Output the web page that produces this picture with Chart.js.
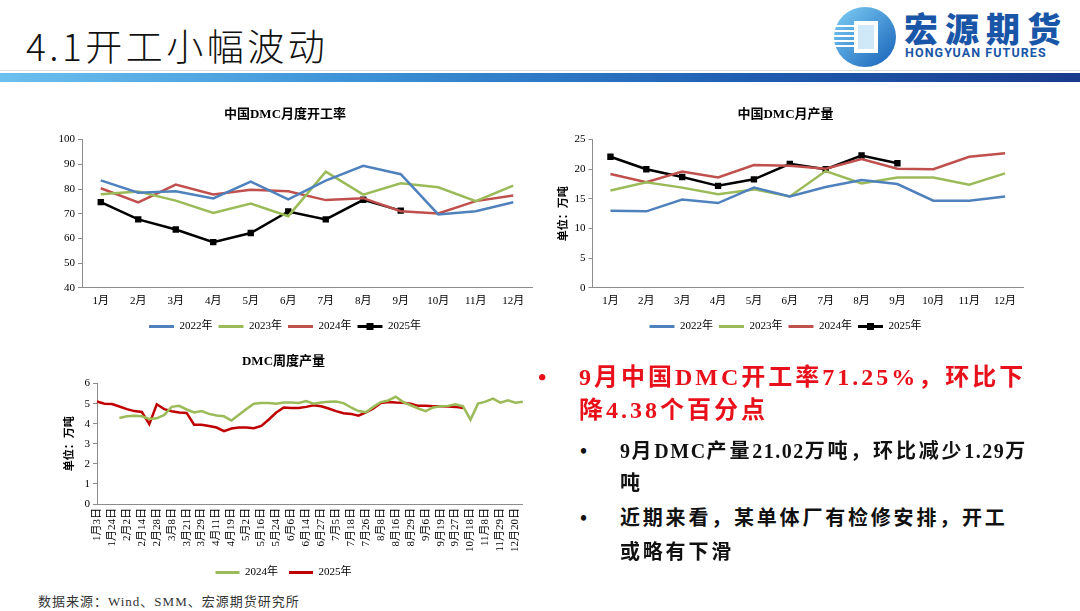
<!DOCTYPE html>
<html>
<head>
<meta charset="utf-8">
<script src="https://cdn.jsdelivr.net/npm/chart.js@4.4.1/dist/chart.umd.min.js"></script>
<style>
html, body { margin: 0; padding: 0; background: #fff; }
body { width: 1080px; height: 611px; position: relative; overflow: hidden;
       font-family: 'Liberation Serif', 'Noto Sans CJK SC', serif; }
.abs { position: absolute; }
#pageTitle { left: 26px; top: 18px; font-size: 37px; font-family: 'Noto Sans CJK SC', sans-serif;
             font-weight: 300; color: #111; letter-spacing: 3.5px; white-space: nowrap; }
#barLine { left: 0; top: 70px; width: 1080px; height: 1px; background: #dcdcdc; }
#bar { left: 0; top: 73px; width: 1080px; height: 9px;
       background: linear-gradient(90deg, #6cc0ee 0%, #3a8fd6 35%, #1f5cb0 70%, #1a3a8c 100%); }
#logoCn { left: 904px; top: 8px; font-size: 34px; font-weight: 900; color: #1a56a8;
          font-family: 'Noto Sans CJK SC', sans-serif; letter-spacing: 7px; white-space: nowrap; line-height: 40px; }
#logoEn { left: 905px; top: 45px; font-size: 12.5px; font-weight: bold; color: #1a56a8;
          font-family: 'Roboto', 'DejaVu Sans', sans-serif; letter-spacing: 1.1px; white-space: nowrap; }
.chartBox { position: absolute; }
.line { position: absolute; white-space: nowrap; font-weight: bold; }
.red { color: #e8101a; font-size: 24px; letter-spacing: 3px; line-height: 34px; }
.blk { color: #111; font-size: 20px; letter-spacing: 2.8px; line-height: 34px; }
.lat { letter-spacing: 1.5px; }
#source { left: 38px; top: 591px; font-size: 13px; color: #333; letter-spacing: 1px; white-space: nowrap; }
</style>
</head>
<body>
<div id="pageTitle" class="abs">4.1开工小幅波动</div>
<svg class="abs" style="left:830px;top:4px" width="70" height="66" viewBox="0 0 70 66">
  <defs>
    <linearGradient id="lg" x1="0" y1="0" x2="1" y2="1">
      <stop offset="0" stop-color="#7fd0f5"/>
      <stop offset="1" stop-color="#1560b8"/>
    </linearGradient>
  </defs>
  <ellipse cx="35" cy="33" rx="31" ry="30" fill="url(#lg)"/>
  <rect x="24" y="17" width="24" height="32" fill="#fff"/>
  <rect x="28" y="21" width="16" height="24" fill="#cfe9f8"/>
  <g stroke="#fff" stroke-width="2">
    <line x1="2" y1="22" x2="24" y2="22"/>
    <line x1="2" y1="27" x2="24" y2="27"/>
    <line x1="2" y1="32" x2="24" y2="32"/>
    <line x1="2" y1="37" x2="24" y2="37"/>
    <line x1="2" y1="42" x2="24" y2="42"/>
  </g>
</svg>
<div id="logoCn" class="abs">宏源期货</div>
<div id="logoEn" class="abs">HONGYUAN FUTURES</div>
<div id="barLine" class="abs"></div>
<div id="bar" class="abs"></div>

<div class="chartBox" style="left:38px;top:100px;width:505px;height:242px"><canvas id="rateChart"></canvas></div>
<div class="chartBox" style="left:548px;top:100px;width:490px;height:242px"><canvas id="outputChart"></canvas></div>
<div class="chartBox" style="left:40px;top:345px;width:500px;height:243px"><canvas id="weeklyChart"></canvas></div>

<div class="line red" style="left:538px;top:360px">•</div>
<div class="line red" style="left:579px;top:360px">9月中国DMC开工率71.25%，环比下</div>
<div class="line red" style="left:579px;top:393px">降4.38个百分点</div>
<div class="line blk" style="left:580px;top:434px">•</div>
<div class="line blk" style="left:620px;top:434px"><span class="lat">9</span>月<span class="lat">DMC</span>产量<span class="lat">21.02</span>万吨，环比减少<span class="lat">1.29</span>万</div>
<div class="line blk" style="left:620px;top:466px">吨</div>
<div class="line blk" style="left:580px;top:501px">•</div>
<div class="line blk" style="left:620px;top:501px">近期来看，某单体厂有检修安排，开工</div>
<div class="line blk" style="left:620px;top:535px">或略有下滑</div>

<div id="source" class="abs">数据来源：Wind、SMM、宏源期货研究所</div>

<script>
// data
const months = ['1月', '2月', '3月', '4月', '5月', '6月', '7月', '8月', '9月', '10月', '11月', '12月'];
const seriesNames = ['2022年', '2023年', '2024年', '2025年'];

const rate2022 = [83.5, 78.5, 79.1, 76.2, 83.0, 75.8, 83.4, 89.4, 86.0, 69.7, 71.0, 74.6];
const rate2023 = [77.9, 79.0, 75.3, 70.3, 74.1, 69.0, 87.0, 77.7, 82.3, 80.7, 75.1, 81.4];
const rate2024 = [80.3, 74.6, 81.8, 77.8, 79.7, 79.1, 75.5, 76.3, 71.0, 70.1, 75.1, 77.4];
const rate2025 = [74.7, 67.7, 63.6, 58.5, 62.2, 70.9, 67.7, 75.63, 71.25];

const output2022 = [13.0, 12.9, 14.9, 14.3, 16.9, 15.4, 17.0, 18.2, 17.5, 14.7, 14.7, 15.4];
const output2023 = [16.4, 17.8, 16.9, 15.8, 16.6, 15.4, 19.7, 17.6, 18.6, 18.6, 17.4, 19.3];
const output2024 = [19.2, 17.8, 19.6, 18.6, 20.7, 20.6, 20.1, 21.7, 20.1, 20.0, 22.1, 22.7];
const output2025 = [22.1, 20.0, 18.7, 17.2, 18.3, 20.9, 20.0, 22.31, 21.02];

// weekly axis: a label on every second week
const weekTicks = ['1月3日', '1月24日', '2月2日', '2月14日', '2月28日', '3月8日', '3月21日', '3月29日',
    '4月11日', '4月19日', '5月2日', '5月16日', '5月24日', '6月6日', '6月14日', '6月27日', '7月5日',
    '7月18日', '7月26日', '8月8日', '8月16日', '8月29日', '9月6日', '9月19日', '9月27日',
    '10月18日', '11月8日', '11月29日', '12月20日'];
const weekCount = 58;
const weekly2024 = [null, null, null,
    4.29, 4.37, 4.40, 4.37, 4.24, 4.27, 4.44, 4.84, 4.89, 4.71,
    4.56, 4.63, 4.49, 4.41, 4.37, 4.16, 4.45, 4.73, 5.00, 5.03,
    5.03, 5.00, 5.06, 5.06, 5.03, 5.13, 5.00, 5.06, 5.10, 5.11,
    5.03, 4.81, 4.63, 4.57, 4.84, 5.08, 5.16, 5.35, 5.08, 4.92,
    4.76, 4.63, 4.81, 4.87, 4.89, 4.97, 4.87, 4.20, 5.00, 5.10,
    5.25, 5.05, 5.17, 5.05, 5.10];
const weekly2025 = [5.11, 5.00, 4.98, 4.86, 4.73, 4.63, 4.59, 3.98, 4.97, 4.73,
    4.62, 4.56, 4.54, 3.95, 3.95, 3.89, 3.81, 3.63, 3.76, 3.81,
    3.81, 3.78, 3.89, 4.21, 4.56, 4.81, 4.78, 4.78, 4.84, 4.92,
    4.87, 4.76, 4.63, 4.52, 4.49, 4.40, 4.57, 4.76, 5.03, 5.08,
    5.06, 5.05, 5.00, 4.89, 4.89, 4.87, 4.87, 4.86, 4.84, 4.78];
const weekLabels = Array.from({ length: weekCount }, (_, i) => (i % 2 ? '' : weekTicks[i / 2]));

const colors = ['#4f81bd', '#9bbb59', '#c0504d', '#000000'];
const axisColor = '#8c8c8c';

Chart.defaults.font.family = "'Liberation Serif', 'Times New Roman', 'Noto Sans CJK SC', serif";
Chart.defaults.font.size = 11;
Chart.defaults.color = '#000';
Chart.defaults.animation = false;

// legend entries as thin lines instead of boxes
function lineLegendLabels(chart) {
    return Chart.defaults.plugins.legend.labels.generateLabels(chart).map(l => ({ ...l, lineWidth: 0 }));
}

// square marker drawn on the legend line of the marked series
const legendMarker = {
    id: 'legendMarker',
    afterDraw(chart) {
        const legend = chart.legend;
        if (!legend || !legend.legendHitBoxes) return;
        const ctx = chart.ctx;
        chart.data.datasets.forEach((ds, i) => {
            if (!ds.pointRadius) return;
            const box = legend.legendHitBoxes[i];
            const cx = box.left + legend.options.labels.boxWidth / 2;
            const cy = box.top + box.height / 2;
            ctx.save();
            ctx.fillStyle = ds.borderColor;
            ctx.fillRect(cx - 3.5, cy - 3.5, 7, 7);
            ctx.restore();
        });
    }
};

function yearDatasets(values) {
    return values.map((data, i) => ({
        label: seriesNames[i],
        data: data,
        borderColor: colors[i],
        backgroundColor: colors[i],
        borderWidth: 2.5,
        tension: 0,
        pointRadius: i === 3 ? 4.5 : 0,
        pointStyle: 'rect',
        pointBackgroundColor: colors[i],
        pointBorderWidth: 0
    }));
}

function monthlyOptions(title, yMin, yMax, step, yWidth, yTitle) {
    return {
        responsive: true,
        maintainAspectRatio: false,
        layout: { padding: { left: 0, right: 11, top: 0, bottom: 0 } },
        plugins: {
            title: {
                display: true, text: title, color: '#000',
                font: { size: 13, weight: 'bold' },
                padding: { top: 7, bottom: 17 }
            },
            legend: {
                position: 'bottom',
                labels: { boxWidth: 25, boxHeight: 3, padding: 6, font: { size: 11 }, generateLabels: lineLegendLabels }
            },
            tooltip: { enabled: false }
        },
        scales: {
            x: {
                offset: true,
                grid: { display: false, drawTicks: false },
                border: { color: axisColor },
                ticks: { padding: 7, maxRotation: 0, autoSkip: false }
            },
            y: {
                min: yMin, max: yMax,
                ticks: { stepSize: step, padding: 3 },
                grid: { drawOnChartArea: false, tickLength: 4, color: axisColor },
                border: { color: axisColor },
                title: yTitle ? { display: true, text: yTitle, font: { size: 11, weight: 'bold' }, padding: { top: 10, bottom: 0 } } : { display: false },
                afterFit: (scale) => { scale.width = yWidth; }
            }
        }
    };
}

document.addEventListener('DOMContentLoaded', () => {

    // 1. monthly operating rate
    new Chart(document.getElementById('rateChart'), {
        type: 'line',
        data: { labels: months, datasets: yearDatasets([rate2022, rate2023, rate2024, rate2025]) },
        options: monthlyOptions('中国DMC月度开工率', 40, 100, 10, 44, null),
        plugins: [legendMarker]
    });

    // 2. monthly output
    const outOpts = monthlyOptions('中国DMC月产量', 0, 25, 5, 44.5, '单位：万吨');
    outOpts.layout.padding.right = 15;
    new Chart(document.getElementById('outputChart'), {
        type: 'line',
        data: { labels: months, datasets: yearDatasets([output2022, output2023, output2024, output2025]) },
        options: outOpts,
        plugins: [legendMarker]
    });

    // 3. weekly output
    new Chart(document.getElementById('weeklyChart'), {
        type: 'line',
        data: {
            labels: weekLabels,
            datasets: [
                { label: '2024年', data: weekly2024, borderColor: '#9bbb59', backgroundColor: '#9bbb59', borderWidth: 2.5, pointRadius: 0, tension: 0 },
                { label: '2025年', data: weekly2025, borderColor: '#c00000', backgroundColor: '#c00000', borderWidth: 2.5, pointRadius: 0, tension: 0 }
            ]
        },
        options: {
            responsive: true,
            maintainAspectRatio: false,
            layout: { padding: { left: 0, right: 13, top: 0, bottom: 0 } },
            plugins: {
                title: {
                    display: true, text: 'DMC周度产量', color: '#000',
                    font: { size: 13, weight: 'bold' },
                    padding: { top: 9, bottom: 14 }
                },
                legend: {
                    position: 'bottom',
                    labels: { boxWidth: 24, boxHeight: 3, padding: 11, font: { size: 11 }, generateLabels: lineLegendLabels }
                },
                tooltip: { enabled: false }
            },
            scales: {
                x: {
                    offset: false,
                    grid: { display: false, drawTicks: false },
                    border: { color: axisColor },
                    ticks: { autoSkip: false, maxRotation: 90, minRotation: 90, padding: 4 }
                },
                y: {
                    min: 0, max: 6,
                    ticks: { stepSize: 1, padding: 3 },
                    grid: { drawOnChartArea: false, tickLength: 4, color: axisColor },
                    border: { color: axisColor },
                    title: { display: true, text: '单位：万吨', font: { size: 11, weight: 'bold' }, padding: { top: 24, bottom: 0 } },
                    afterFit: (scale) => { scale.width = 57; }
                }
            }
        }
    });
});
</script>
</body>
</html>
